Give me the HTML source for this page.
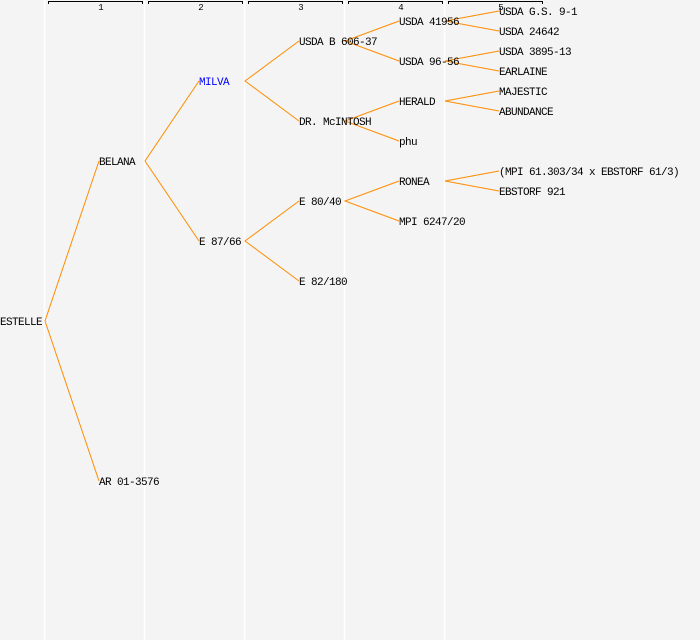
<!DOCTYPE html>
<html><head><meta charset="utf-8"><style>
html,body{margin:0;padding:0;background:#f4f4f4;}
svg{display:block;}
text{font-family:"Liberation Mono","DejaVu Sans Mono",monospace;font-size:11px;letter-spacing:-0.6px;fill:#000;}
</style></head><body>
<svg width="700" height="640" viewBox="0 0 700 640" xmlns="http://www.w3.org/2000/svg">
<rect width="700" height="640" fill="#f4f4f4"/>
<g stroke="#ffffff" stroke-width="1.5">
<line x1="44.5" y1="0" x2="44.5" y2="640"/>
<line x1="144.5" y1="0" x2="144.5" y2="640"/>
<line x1="244.5" y1="0" x2="244.5" y2="640"/>
<line x1="344.5" y1="0" x2="344.5" y2="640"/>
<line x1="444.5" y1="0" x2="444.5" y2="640"/>
</g>
<g stroke="#000" stroke-width="1" fill="none">
<path d="M48.5 4V1.5H142.5V4"/>
<path d="M148.5 4V1.5H242.5V4"/>
<path d="M248.5 4V1.5H342.5V4"/>
<path d="M348.5 4V1.5H442.5V4"/>
<path d="M448.5 4V1.5H542.5V4"/>
</g>
<g text-anchor="middle">
<text x="101" y="10" style="font-size:9px;letter-spacing:0">1</text>
<text x="201" y="10" style="font-size:9px;letter-spacing:0">2</text>
<text x="301" y="10" style="font-size:9px;letter-spacing:0">3</text>
<text x="401" y="10" style="font-size:9px;letter-spacing:0">4</text>
<text x="501" y="10" style="font-size:9px;letter-spacing:0">5</text>
</g>
<g stroke="#ff8c00" stroke-width="1" fill="none">
<path d="M99 161L45 321L99 481"/>
<path d="M199 81L145 161L199 241"/>
<path d="M299 41L245 81L299 121"/>
<path d="M299 201L245 241L299 281"/>
<path d="M399 21L345 41L399 61"/>
<path d="M399 101L345 121L399 141"/>
<path d="M399 181L345 201L399 221"/>
<path d="M499 11L445 21L499 31"/>
<path d="M499 51L445 61L499 71"/>
<path d="M499 91L445 101L499 111"/>
<path d="M499 171L445 181L499 191"/>
</g>
<text x="0" y="325">ESTELLE</text>
<text x="99" y="165">BELANA</text>
<text x="99" y="485">AR 01-3576</text>
<text x="199" y="85" style="fill:#0000ff">MILVA</text>
<text x="199" y="245">E 87/66</text>
<text x="299" y="45">USDA B 606-37</text>
<text x="299" y="125">DR. McINTOSH</text>
<text x="299" y="205">E 80/40</text>
<text x="299" y="285">E 82/180</text>
<text x="399" y="25">USDA 41956</text>
<text x="399" y="65">USDA 96-56</text>
<text x="399" y="105">HERALD</text>
<text x="399" y="145">phu</text>
<text x="399" y="185">RONEA</text>
<text x="399" y="225">MPI 6247/20</text>
<text x="499" y="15">USDA G.S. 9-1</text>
<text x="499" y="35">USDA 24642</text>
<text x="499" y="55">USDA 3895-13</text>
<text x="499" y="75">EARLAINE</text>
<text x="499" y="95">MAJESTIC</text>
<text x="499" y="115">ABUNDANCE</text>
<text x="499" y="175">(MPI 61.303/34 x EBSTORF 61/3)</text>
<text x="499" y="195">EBSTORF 921</text>
</svg>
</body></html>
